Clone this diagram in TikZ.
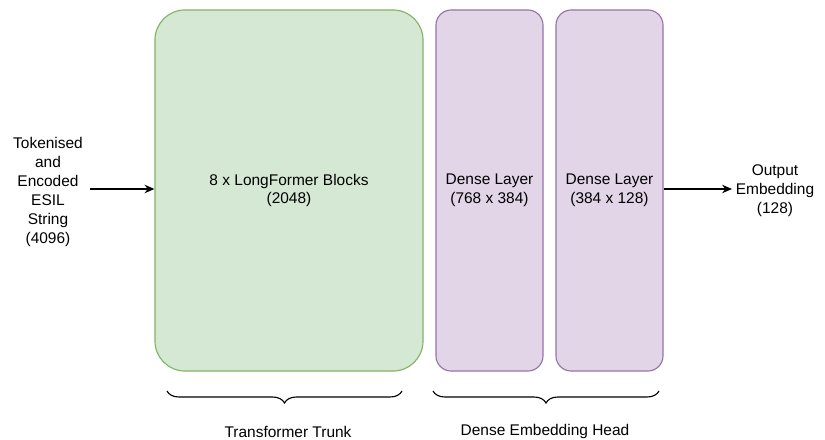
\documentclass[tikz,border=0pt]{standalone}
\usepackage{fontspec}
\setmainfont{Liberation Sans}
\usepackage{tikz}
\usetikzlibrary{positioning,calc,arrows.meta,decorations.pathreplacing}

\definecolor{trunkfill}{RGB}{213,232,212}
\definecolor{trunkdraw}{RGB}{130,179,102}
\definecolor{headfill}{RGB}{225,213,231}
\definecolor{headdraw}{RGB}{150,115,166}

\begin{document}
\begin{tikzpicture}[x=0.025cm, y=-0.025cm,
            every node/.style={font=\fontsize{11}{13.4}\selectfont, align=center, inner sep=1pt},
            trunkbox/.style={draw=trunkdraw, fill=trunkfill, line width=0.8pt, rounded corners=0.75cm,
                minimum width=6.7cm, minimum height=9.025cm},
            headbox/.style={draw=headdraw, fill=headfill, line width=0.8pt, rounded corners=0.38cm,
                minimum width=2.675cm, minimum height=9.025cm},
            flowedge/.style={line width=0.9pt, -{Stealth[length=7pt,width=6pt]}},
            bracket/.style={line width=0.8pt, decorate, decoration={brace, amplitude=0.3cm}}
        ]
            \useasboundingbox (0,0) rectangle (825,440);
            \node (inp) at (48,192) {Tokenised\\and\\Encoded\\ESIL\\String\\(4096)};
            \node [trunkbox] (trunk) at (289,190.5) {8 x LongFormer Blocks\\(2048)};
            \node [headbox] (dense1) at (489.5,190.5) {Dense Layer\\(768 x 384)};
            \node [headbox] (dense2) at (609.5,190.5) {Dense Layer\\(384 x 128)};
            \node (outp) at (775,191) {Output\\Embedding\\(128)};
            \coordinate (inend) at (90,189);
            \coordinate (outend) at (732,189);
            \path[flowedge]
                (inend) edge (inend -| trunk.west)
                (outend -| dense2.east) edge (outend);
            % braces under the two groups
            \coordinate (b1l) at (167,391);
            \coordinate (b1r) at (402,391);
            \coordinate (b2l) at (433,391);
            \coordinate (b2r) at (659,391);
            \draw[bracket] (b1r) -- (b1l);
            \draw[bracket] (b2r) -- (b2l);
            \node (trunklbl) at (288,432) {Transformer Trunk};
            \node (headlbl) at (545,432) {Dense Embedding Head};
        \end{tikzpicture}
\end{document}
